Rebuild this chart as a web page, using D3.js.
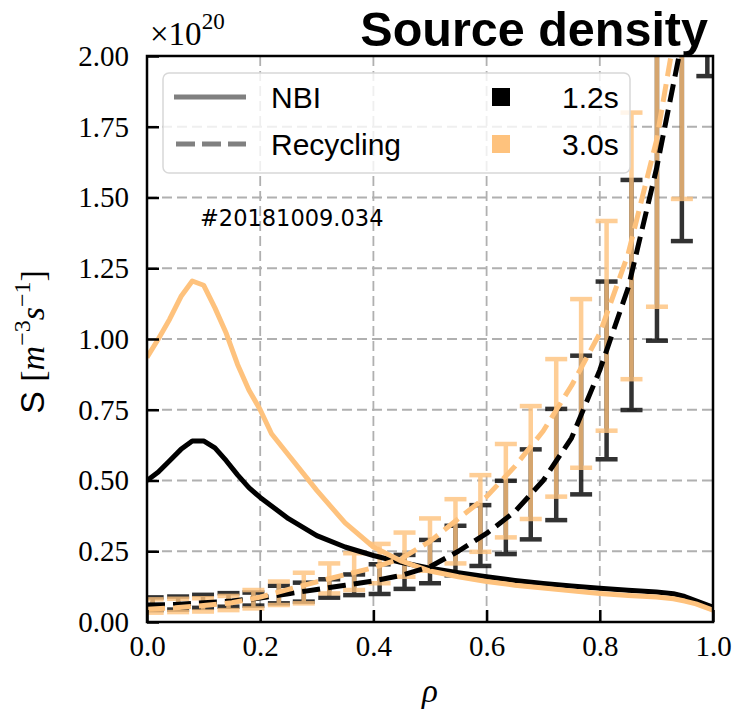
<!DOCTYPE html>
<html>
<head>
<meta charset="utf-8">
<script src="https://cdn.jsdelivr.net/npm/d3@7"></script>
<style>
  body { margin: 0; background: #fff; }
  svg { display: block; }
</style>
</head>
<body>
<svg width="736" height="722"></svg>
<script>
// Data (values in units of 1e20 m^-3 s^-1)
const rhoLine = [0, 0.02, 0.04, 0.06, 0.08, 0.10, 0.12, 0.14, 0.16, 0.18, 0.20, 0.22, 0.25, 0.30, 0.35, 0.40, 0.45, 0.50, 0.55, 0.60, 0.65, 0.70, 0.75, 0.80, 0.85, 0.90, 0.93, 0.95, 0.97, 1.00];
const nbi12 = [0.50, 0.53, 0.57, 0.61, 0.64, 0.64, 0.615, 0.57, 0.52, 0.475, 0.44, 0.41, 0.365, 0.305, 0.265, 0.235, 0.21, 0.19, 0.174, 0.16, 0.147, 0.136, 0.127, 0.119, 0.112, 0.106, 0.100, 0.090, 0.075, 0.052];
const nbi30 = [0.935, 1.00, 1.07, 1.15, 1.205, 1.19, 1.11, 1.02, 0.91, 0.82, 0.75, 0.665, 0.59, 0.465, 0.35, 0.265, 0.215, 0.18, 0.16, 0.143, 0.13, 0.12, 0.11, 0.101, 0.094, 0.088, 0.082, 0.074, 0.064, 0.042];

const rhoRec = [0, 0.05, 0.10, 0.15, 0.20, 0.25, 0.30, 0.35, 0.40, 0.45, 0.50, 0.55, 0.60, 0.65, 0.70, 0.75, 0.80, 0.85, 0.90, 0.93, 0.95];
const rec12 = [0.06, 0.062, 0.068, 0.074, 0.085, 0.10, 0.115, 0.13, 0.145, 0.165, 0.195, 0.25, 0.313, 0.39, 0.50, 0.65, 0.89, 1.18, 1.60, 1.90, 2.10];
const rec30 = [0.045, 0.05, 0.058, 0.068, 0.088, 0.115, 0.142, 0.167, 0.192, 0.225, 0.285, 0.365, 0.443, 0.55, 0.675, 0.835, 1.02, 1.30, 1.70, 2.05, 2.30];

// error bars (measured recycling source)
const rhoErr = [0.010, 0.055, 0.099, 0.144, 0.188, 0.233, 0.277, 0.322, 0.366, 0.411, 0.455, 0.500, 0.545, 0.589, 0.634, 0.678, 0.723, 0.767, 0.812, 0.856, 0.901, 0.945, 0.990];
const err12Low  = [0.042, 0.044, 0.050, 0.054, 0.058, 0.066, 0.072, 0.086, 0.095, 0.099, 0.117, 0.137, 0.165, 0.198, 0.240, 0.292, 0.360, 0.451, 0.575, 0.749, 0.994, 1.346, 1.929];
const err12High = [0.087, 0.090, 0.096, 0.102, 0.104, 0.128, 0.139, 0.151, 0.168, 0.204, 0.237, 0.290, 0.340, 0.413, 0.499, 0.610, 0.753, 0.941, 1.203, 1.562, 2.300, 2.800, 3.200];
const err30Low  = [0.033, 0.035, 0.037, 0.042, 0.048, 0.060, 0.066, 0.101, 0.113, 0.137, 0.160, 0.181, 0.207, 0.248, 0.299, 0.364, 0.443, 0.545, 0.676, 0.858, 1.114, 1.495, 2.100];
const err30High = [0.080, 0.082, 0.084, 0.092, 0.113, 0.143, 0.174, 0.207, 0.243, 0.276, 0.316, 0.366, 0.434, 0.519, 0.629, 0.763, 0.929, 1.141, 1.417, 1.800, 2.500, 3.000, 3.500];

const xTicks = [0, 0.2, 0.4, 0.6, 0.8, 1.0];
const yTicks = [0, 0.25, 0.5, 0.75, 1.0, 1.25, 1.5, 1.75, 2.0];

const black = "#000000";
const orange = "#fec27d";

const margin = { top: 56, left: 147 },
    width = 566,
    height = 566;

const svg = d3.select("svg");
const g = svg.append("g").attr("transform", `translate(${margin.left},${margin.top})`);

const x = d3.scaleLinear().domain([0, 1]).range([0, width]);
const y = d3.scaleLinear().domain([0, 2]).range([height, 0]);

svg.append("defs").append("clipPath").attr("id", "plotclip")
    .append("rect").attr("width", width).attr("height", height);

// grid
g.append("g").selectAll("line").data(xTicks).join("line")
    .attr("x1", d => x(d)).attr("x2", d => x(d))
    .attr("y1", 0).attr("y2", height)
    .attr("stroke", "#b0b0b0").attr("stroke-width", 1.8).attr("stroke-dasharray", "10,5");
g.append("g").selectAll("line").data(yTicks).join("line")
    .attr("y1", d => y(d)).attr("y2", d => y(d))
    .attr("x1", 0).attr("x2", width)
    .attr("stroke", "#b0b0b0").attr("stroke-width", 1.8).attr("stroke-dasharray", "10,5");

const plot = g.append("g").attr("clip-path", "url(#plotclip)");

// error bars
function errorbars(low, high, color) {
    const eb = plot.append("g").attr("opacity", 0.8);
    rhoErr.forEach((r, i) => {
        const cx = x(r);
        eb.append("line").attr("x1", cx).attr("x2", cx)
            .attr("y1", y(low[i])).attr("y2", y(high[i]))
            .attr("stroke", color).attr("stroke-width", 4.5);
        [low[i], high[i]].forEach(v => {
            eb.append("line").attr("x1", cx - 11).attr("x2", cx + 11)
                .attr("y1", y(v)).attr("y2", y(v))
                .attr("stroke", color).attr("stroke-width", 4.5);
        });
    });
}
errorbars(err12Low, err12High, black);
errorbars(err30Low, err30High, orange);

// lines
const line = d3.line().x(d => x(d[0])).y(d => y(d[1]));

function drawLine(xs, ys, color, dashed) {
    plot.append("path")
        .datum(xs.map((r, i) => [r, ys[i]]))
        .attr("fill", "none")
        .attr("stroke", color)
        .attr("stroke-width", 5)
        .attr("stroke-linejoin", "round")
        .attr("stroke-dasharray", dashed ? "18,8" : null)
        .attr("d", line);
}
drawLine(rhoLine, nbi12, black, false);
drawLine(rhoLine, nbi30, orange, false);
drawLine(rhoRec, rec12, black, true);
drawLine(rhoRec, rec30, orange, true);

// axes
const xAxis = g.append("g")
    .attr("transform", `translate(0,${height})`)
    .call(d3.axisBottom(x).tickValues(xTicks).tickFormat(d3.format(".1f")).tickSize(-12).tickPadding(13));
const yAxis = g.append("g")
    .call(d3.axisLeft(y).tickValues(yTicks).tickFormat(d3.format(".2f")).tickSize(-12).tickPadding(18));

[xAxis, yAxis].forEach(a => {
    a.select(".domain").remove();
    a.selectAll(".tick line").attr("stroke", "#000").attr("stroke-width", 2.5);
    a.selectAll("text")
        .style("font-family", "'Liberation Serif', serif")
        .style("font-size", "29px")
        .attr("fill", "#000");
});

// frame
g.append("rect")
    .attr("width", width).attr("height", height)
    .attr("fill", "none").attr("stroke", "#000").attr("stroke-width", 2.5);

// legend
const leg = svg.append("g");
leg.append("rect")
    .attr("x", 163).attr("y", 73).attr("width", 467).attr("height", 100)
    .attr("rx", 6)
    .attr("fill", "#fff").attr("fill-opacity", 0.8)
    .attr("stroke", "#d8d8d8").attr("stroke-width", 1.5);

const legFont = "'Liberation Sans', Arial, sans-serif";
leg.append("line").attr("x1", 174).attr("x2", 246).attr("y1", 97).attr("y2", 97)
    .attr("stroke", "#808080").attr("stroke-width", 5);
leg.append("line").attr("x1", 176).attr("x2", 246).attr("y1", 144).attr("y2", 144)
    .attr("stroke", "#808080").attr("stroke-width", 5).attr("stroke-dasharray", "19,7");
leg.append("text").attr("x", 271).attr("y", 108).text("NBI")
    .style("font-family", legFont).style("font-size", "30px");
leg.append("text").attr("x", 271).attr("y", 155).text("Recycling")
    .style("font-family", legFont).style("font-size", "30px");

leg.append("rect").attr("x", 492).attr("y", 88).attr("width", 18).attr("height", 18).attr("fill", black);
leg.append("rect").attr("x", 492).attr("y", 135).attr("width", 18).attr("height", 18).attr("fill", orange);
leg.append("text").attr("x", 562).attr("y", 108).text("1.2s")
    .style("font-family", legFont).style("font-size", "30px");
leg.append("text").attr("x", 562).attr("y", 155).text("3.0s")
    .style("font-family", legFont).style("font-size", "30px");

// shot number
svg.append("text").attr("x", 200).attr("y", 226).text("#20181009.034")
    .style("font-family", "'DejaVu Sans', sans-serif").style("font-size", "22.5px");

// title
svg.append("text").attr("x", 708).attr("y", 46).attr("text-anchor", "end")
    .text("Source density")
    .style("font-family", "'Liberation Sans', Arial, sans-serif")
    .style("font-size", "48.5px").style("font-weight", "bold");

// offset text
const off = svg.append("text").attr("x", 150).attr("y", 45)
    .style("font-family", "'Liberation Serif', serif").style("font-size", "33px");
off.append("tspan").text("\u00d710");
off.append("tspan").attr("dy", -16).style("font-size", "23px").text("20");

// x label
svg.append("text").attr("x", 430).attr("y", 702).attr("text-anchor", "middle")
    .style("font-family", "'Liberation Serif', serif").style("font-size", "33px").style("font-style", "italic")
    .text("\u03c1");

// y label
const yl = svg.append("text")
    .attr("transform", "translate(44,342) rotate(-90)")
    .attr("text-anchor", "middle")
    .style("font-family", "'Liberation Serif', serif").style("font-size", "34px");
yl.append("tspan").style("font-family", "'Liberation Sans', sans-serif").text("S ");
yl.append("tspan").text("[");
yl.append("tspan").style("font-style", "italic").text("m");
yl.append("tspan").attr("dy", -14).style("font-size", "24px").text("\u22123");
yl.append("tspan").attr("dy", 14).style("font-style", "italic").text("s");
yl.append("tspan").attr("dy", -14).style("font-size", "24px").text("\u22121");
yl.append("tspan").attr("dy", 14).text("]");
</script>
</body>
</html>
